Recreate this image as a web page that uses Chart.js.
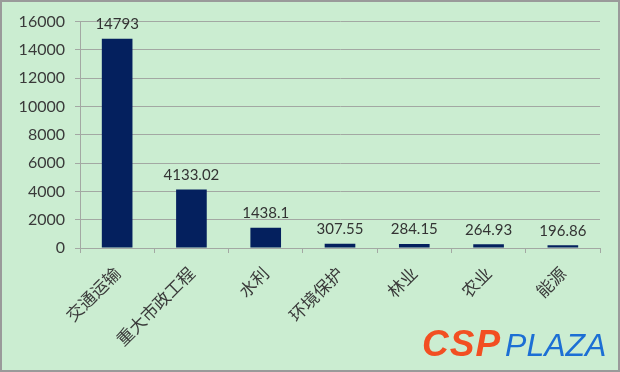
<!DOCTYPE html>
<html>
<head>
<meta charset="utf-8">
<script src="https://cdn.jsdelivr.net/npm/chart.js@4"></script>
<style>
    html, body { margin: 0; padding: 0; background: #ffffff; }
    #wrap {
        position: relative;
        width: 620px; height: 372px;
        box-sizing: border-box;
        border: 2px solid #9a9a9a;
        background: #cbedd1;
    }
    #chart { position: absolute; left: 0; top: 0; }
    .logo {
        position: absolute; left: 420px; top: 323px;
        font-family: "Liberation Sans", Arial, sans-serif;
        font-style: italic; white-space: nowrap; line-height: 1;
    }
    .logo .csp { color: #f24f22; font-weight: 900; font-size: 37px; letter-spacing: 1px; }
    .logo .plaza { color: #1c6fd4; font-weight: 400; font-size: 32px; margin-left: 4px; }
</style>
</head>
<body>
<div id="wrap">
    <canvas id="chart" width="616" height="368"></canvas>
    <div class="logo"><span class="csp">CSP</span><span class="plaza">PLAZA</span></div>
</div>
<script>
// chart data
const categories = ['交通运输', '重大市政工程', '水利', '环境保护', '林业', '农业', '能源'];
const investValues = [14793, 4133.02, 1438.1, 307.55, 284.15, 264.93, 196.86];
const valueLabels = ['14793', '4133.02', '1438.1', '307.55', '284.15', '264.93', '196.86'];
const yTicks = [0, 2000, 4000, 6000, 8000, 10000, 12000, 14000, 16000];

document.addEventListener('DOMContentLoaded', function() {
    const gridColor = '#a3a8a3';

    // value labels above each bar
    const barLabels = {
        id: 'barLabels',
        afterDatasetsDraw(chart) {
            const ctx = chart.ctx;
            const meta = chart.getDatasetMeta(0);
            ctx.save();
            ctx.font = '15px Lato, "Liberation Sans", sans-serif';
            ctx.fillStyle = '#333333';
            ctx.textAlign = 'center';
            ctx.textBaseline = 'bottom';
            meta.data.forEach((bar, i) => {
                ctx.fillText(valueLabels[i], bar.x, bar.y - 7);
            });
            ctx.restore();
        }
    };

    new Chart(document.getElementById('chart'), {
        type: 'bar',
        data: {
            labels: categories,
            datasets: [{
                data: investValues,
                backgroundColor: '#04205e',
                barPercentage: 0.55,
                categoryPercentage: 0.75
            }]
        },
        options: {
            responsive: false,
            animation: false,
            layout: { padding: { left: 0, right: 18, top: 18, bottom: 0 } },
            plugins: {
                legend: { display: false },
                tooltip: { enabled: false }
            },
            scales: {
                x: {
                    afterFit(scale) { scale.height = 122; },
                    grid: {
                        offset: true,
                        drawOnChartArea: false,
                        drawTicks: true,
                        tickLength: 5,
                        color: gridColor
                    },
                    border: { display: true, color: gridColor, width: 1 },
                    ticks: {
                        minRotation: 45,
                        maxRotation: 45,
                        padding: 10,
                        color: '#3a3a3a',
                        font: { family: '"Noto Sans CJK SC", sans-serif', size: 17 }
                    }
                },
                y: {
                    min: 0,
                    max: 16000,
                    afterFit(scale) { scale.width = 78; },
                    afterBuildTicks(scale) { scale.ticks = yTicks.map(v => ({ value: v })); },
                    grid: {
                        color: gridColor,
                        lineWidth: 1,
                        tickLength: 5
                    },
                    border: { display: true, color: gridColor, width: 1 },
                    ticks: {
                        padding: 10,
                        color: '#3a3a3a',
                        font: { family: 'Lato, "Liberation Sans", sans-serif', size: 16 },
                        callback: v => String(v)
                    }
                }
            }
        },
        plugins: [barLabels]
    });
});
</script>
</body>
</html>
